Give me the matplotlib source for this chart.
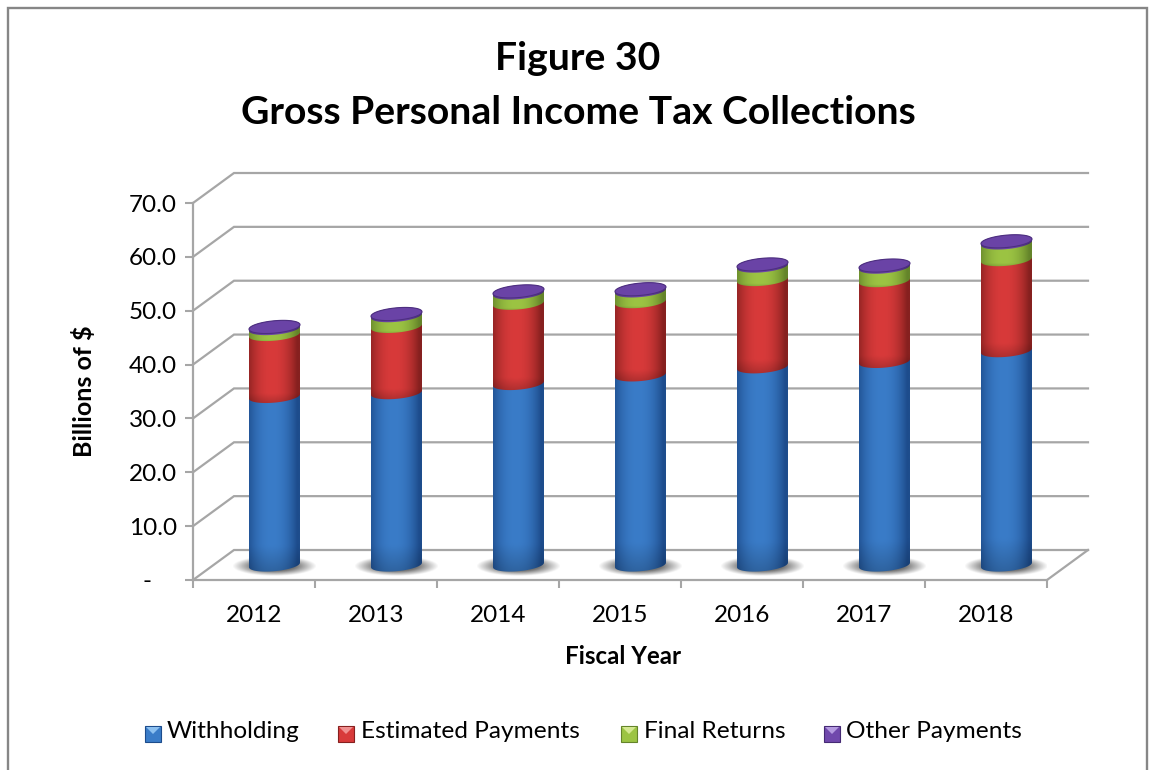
import numpy as np
import matplotlib
matplotlib.use('Agg')
import matplotlib.pyplot as plt
from matplotlib.patches import Polygon, Rectangle

plt.rcParams['font.family'] = ['Lato', 'DejaVu Sans']

# Billions of dollars by fiscal year
years = ['2012', '2013', '2014', '2015', '2016', '2017', '2018']
withholding = [31.3, 32.0, 33.7, 35.3, 36.8, 37.8, 39.8]
estimated = [11.5, 12.3, 14.9, 13.6, 16.2, 15.0, 16.9]
final_returns = [1.1, 2.0, 1.9, 2.0, 2.5, 2.5, 3.1]
other_payments = [0.3, 0.3, 0.3, 0.3, 0.3, 0.3, 0.3]
y_ticks = [0, 10, 20, 30, 40, 50, 60, 70]
y_tick_labels = ['-    ', '10.0', '20.0', '30.0', '40.0', '50.0', '60.0', '70.0']
series_names = ['Withholding', 'Estimated Payments', 'Final Returns', 'Other Payments']

# centre and edge shades of each cylinder section
shades = [('#3a7cc8', '#1d4c8c'), ('#d83a3a', '#86201f'), ('#9cc443', '#64842a'), ('#7048ac', '#452a74')]
GRID = '#a6a6a6'
FRAME = '#868686'

W, H = 1149, 770
# how far the back wall sits behind the front plane, in data units
DEPTH_X = 0.336
DEPTH_Y = 5.57
# the cylinders stand halfway between front plane and back wall
BASE_Y = DEPTH_Y / 2
# cylinder end ellipse: half width, half height, tilt
ELL_A = 0.209
ELL_B = 1.15
ELL_TILT = 0.42

fig = plt.figure(figsize=(W / 100, H / 100), dpi=100)
fig.patch.set_facecolor('white')

# page-level decoration in pixel coordinates
deco = fig.add_axes([0, 0, 1, 1])
deco.set_xlim(0, W)
deco.set_ylim(H, 0)
deco.axis('off')
deco.plot([8, 8, 1147, 1147], [H, 8, 8, H], color=FRAME, lw=1.7, solid_joinstyle='miter')

ax = fig.add_axes([193 / W, (H - 580) / H, 854 / W, 377 / H])
ax.patch.set_alpha(0)


def ellipse(cx, cy, t):
    return cx + ELL_A * np.cos(t), cy + ELL_TILT * np.cos(t) + ELL_B * np.sin(t)


def draw_section(cx, y0, y1, centre, edge, z):
    c = np.array(matplotlib.colors.to_rgb(centre))
    e = np.array(matplotlib.colors.to_rgb(edge))
    u = np.linspace(-1, 1, 80)
    v = np.linspace(0, 1, 60)
    across = np.clip(1 - np.abs(u + 0.1) ** 2.2, 0, 1)
    img = e + (c - e) * across[None, :, None]
    # sections get darker towards their lower end
    img = img * (0.8 + 0.2 * np.clip(v * 7, 0, 1))[:, None, None]
    top = y1 + ELL_B + ELL_TILT
    bottom = y0 - ELL_B - ELL_TILT
    im = ax.imshow(img, extent=[cx - ELL_A, cx + ELL_A, bottom, top], origin='lower',
                   aspect='auto', zorder=z, interpolation='bilinear')
    xb, yb = ellipse(cx, y0, np.linspace(np.pi, 2 * np.pi, 40))
    xt, yt = ellipse(cx, y1, np.linspace(0, np.pi, 40))
    outline = Polygon(np.column_stack([np.r_[xb, xt], np.r_[yb, yt]]), transform=ax.transData)
    im.set_clip_path(outline)


def draw_shadow(cx):
    u = np.linspace(-1, 1, 90)
    uu, vv = np.meshgrid(u, u)
    r = np.sqrt(uu ** 2 + vv ** 2)
    img = np.zeros((90, 90, 4))
    img[..., :3] = 0.35
    img[..., 3] = np.clip((1 - r) * 1.7, 0, 0.85)
    ax.imshow(img, extent=[cx - 0.345, cx + 0.345, BASE_Y - 2.0, BASE_Y + 1.6], origin='lower',
              aspect='auto', zorder=2, interpolation='bilinear')


# wall and floor gridlines
for v in y_ticks:
    ax.plot([0, DEPTH_X, 7 + DEPTH_X], [v, v + DEPTH_Y, v + DEPTH_Y], color=GRID, lw=1.6,
            clip_on=False, zorder=1, solid_joinstyle='miter')
ax.plot([7, 7 + DEPTH_X], [0, DEPTH_Y], color=GRID, lw=1.6, clip_on=False, zorder=1)

stack = np.array([withholding, estimated, final_returns, other_payments])
tops = stack.cumsum(axis=0) + BASE_Y
for i in range(len(years)):
    cx = i + 0.5 + DEPTH_X / 2
    draw_shadow(cx)
    for k in range(4):
        y0 = BASE_Y if k == 0 else tops[k - 1, i]
        draw_section(cx, y0, tops[k, i], shades[k][0], shades[k][1], 3 + k)
    # purple lid
    xl, yl = ellipse(cx, tops[3, i], np.linspace(0, 2 * np.pi, 80))
    ax.add_patch(Polygon(np.column_stack([xl, yl]), facecolor='#6a43a6', edgecolor='#4d2f80',
                         lw=0.8, zorder=8))

ax.set_xlim(0, 7)
ax.set_ylim(0, 70)

for side in ['top', 'right']:
    ax.spines[side].set_visible(False)
for side in ['left', 'bottom']:
    ax.spines[side].set_color(GRID)
    ax.spines[side].set_linewidth(1.6)

ax.set_yticks(y_ticks)
ax.set_yticklabels(y_tick_labels, fontsize=17.5)
ax.tick_params(axis='y', length=5.5, width=1.5, color=GRID, pad=6)
ax.set_xticks(range(8))
ax.set_xticklabels([])
ax.tick_params(axis='x', which='major', length=6, width=1.5, color=GRID)
ax.set_xticks(np.arange(7) + 0.5, minor=True)
ax.set_xticklabels(years, minor=True, fontsize=17.5)
ax.tick_params(axis='x', which='minor', length=0, pad=18)

# titles and axis names
deco.text(578, 58, 'Figure 30', fontsize=28.2, fontweight='bold', ha='center', va='center')
deco.text(578, 112, 'Gross Personal Income Tax Collections', fontsize=28.2, fontweight='bold',
          ha='center', va='center')
deco.text(84, 391, 'Billions of $', fontsize=18, fontweight='bold', rotation=90, ha='center', va='center')
deco.text(623, 656, 'Fiscal Year', fontsize=17.4, fontweight='bold', ha='center', va='center')

# legend keys: a shaded square with a pale wedge at the top
legend_x = [145, 338, 621, 824]
text_x = [167, 361, 644, 846]
pale = ['#8cc0f0', '#f09090', '#d4e890', '#b49ae0']
for k, name in enumerate(series_names):
    x = legend_x[k]
    deco.add_patch(Rectangle((x, 726), 16, 16, facecolor=shades[k][0], edgecolor=shades[k][1], lw=0.8))
    deco.add_patch(Polygon([(x + 1, 727), (x + 15, 727), (x + 8, 734)], facecolor=pale[k], edgecolor='none'))
    deco.text(text_x[k], 732, name, fontsize=17.6, ha='left', va='center')

fig.savefig('out.png', dpi=100)
